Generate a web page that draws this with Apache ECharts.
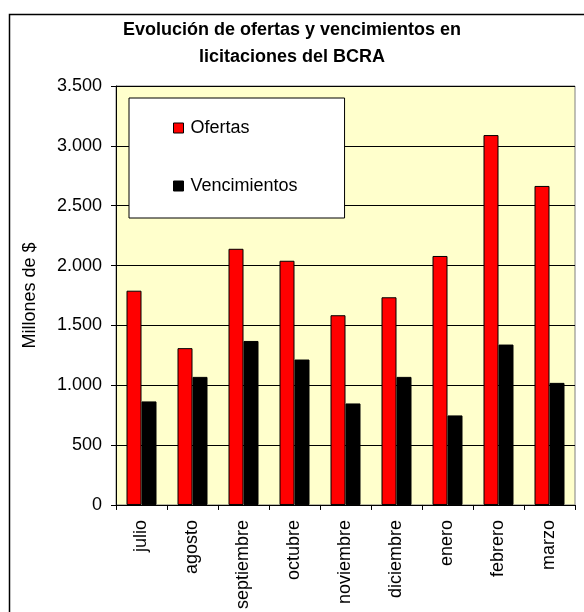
<!DOCTYPE html>
<html><head><meta charset="utf-8">
<script src="https://cdn.jsdelivr.net/npm/echarts@6/dist/echarts.min.js"></script>
<style>html,body{margin:0;padding:0;background:#fff}#c{width:584px;height:612px}</style>
</head><body><div id="c"></div>
<script>
const categories = ['julio','agosto','septiembre','octubre','noviembre','diciembre','enero','febrero','marzo'];
const ofertas = [1790, 1310, 2140, 2040, 1585, 1735, 2080, 3090, 2665];
const vencimientos = [865, 1070, 1370, 1215, 848, 1070, 748, 1340, 1020];
const yTicks = [0, 500, 1000, 1500, 2000, 2500, 3000, 3500];

const FONT = '"Liberation Sans", Arial, sans-serif';
const chart = echarts.init(document.getElementById('c'), null, {renderer: 'canvas'});
chart.setOption({
  animation: false,
  backgroundColor: '#ffffff',
  textStyle: {fontFamily: FONT},
  title: {
    text: 'Evolución de ofertas y vencimientos en\nlicitaciones del BCRA',
    left: 292, top: 17, padding: 0, textAlign: 'center',
    textStyle: {fontFamily: FONT, fontSize: 18, fontWeight: 'bold', color: '#000', lineHeight: 27}
  },
  graphic: [{
    type: 'rect', left: 7, top: 12, silent: true, z: -1,
    shape: {width: 620, height: 640},
    style: {fill: 'none', stroke: '#000', lineWidth: 1.5}
  }],
  legend: {
    orient: 'vertical', left: 129, top: 98,
    padding: [21, 47, 23, 44],
    itemGap: 40, itemWidth: 10, itemHeight: 10, icon: 'rect',
    backgroundColor: '#ffffff', borderColor: '#000', borderWidth: 1,
    textStyle: {fontFamily: FONT, fontSize: 18, color: '#000', lineHeight: 18, padding: [0, 0, 0, 2]},
    data: ['Ofertas', 'Vencimientos'],
    itemStyle: {borderColor: '#000', borderWidth: 1}
  },
  grid: {
    left: 116, right: 9, top: 86, bottom: 105, containLabel: false,
    show: true, backgroundColor: '#FFFFCC', borderColor: '#808080', borderWidth: 1
  },
  xAxis: {
    type: 'category', data: categories, boundaryGap: true,
    axisLine: {lineStyle: {color: '#000', width: 1}},
    axisTick: {show: true, length: 5, inside: false, alignWithLabel: false, lineStyle: {color: '#000'}},
    axisLabel: {rotate: 90, margin: 15, fontFamily: FONT, fontSize: 18, color: '#000', interval: 0},
    splitLine: {show: false}
  },
  yAxis: {
    type: 'value', min: yTicks[0], max: yTicks[yTicks.length - 1], interval: yTicks[1] - yTicks[0],
    name: 'Millones de $', nameLocation: 'middle', nameRotate: 90, nameGap: 77,
    nameTextStyle: {fontFamily: FONT, fontSize: 18, color: '#000'},
    axisLine: {show: true, lineStyle: {color: '#000', width: 1}},
    axisTick: {show: true, length: 5, inside: false, lineStyle: {color: '#000'}},
    axisLabel: {margin: 14, fontFamily: FONT, fontSize: 18, color: '#000',
      formatter: v => String(v).replace(/\B(?=(\d{3})+(?!\d))/g, '.')},
    splitLine: {show: true, lineStyle: {color: '#000', width: 1}}
  },
  series: [
    {name: 'Ofertas', type: 'bar', data: ofertas, barWidth: 15, barGap: '0%',
     itemStyle: {color: '#FF0000', borderColor: '#000', borderWidth: 1}},
    {name: 'Vencimientos', type: 'bar', data: vencimientos, barWidth: 15, barGap: '0%',
     itemStyle: {color: '#000000', borderColor: '#000', borderWidth: 1}}
  ]
});
</script></body></html>
